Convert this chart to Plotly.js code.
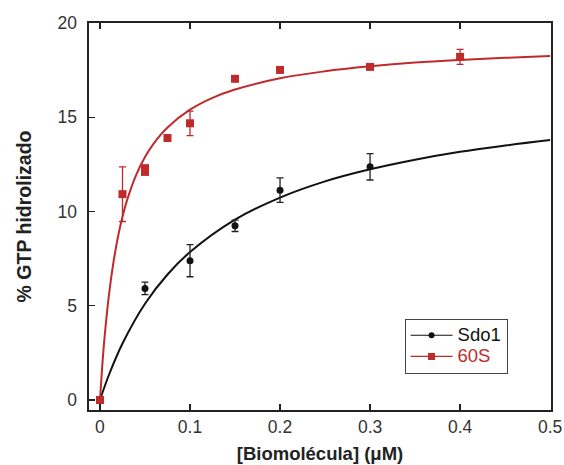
<!DOCTYPE html>
<html>
<head>
<meta charset="utf-8">
<script src="https://cdn.plot.ly/plotly-3.0.1.min.js"></script>
<style>html,body{margin:0;padding:0;background:#fff;}#chart{width:564px;height:465px;}</style>
</head>
<body>
<div id="chart"></div>
<script>
const sdo1X = [0, 0.05, 0.1, 0.15, 0.2, 0.3];
const sdo1Y = [0, 5.92, 7.39, 9.24, 11.13, 12.37];
const sdo1Err = [0, 0.33, 0.85, 0.3, 0.65, 0.7];

const s60X = [0, 0.025, 0.05, 0.05, 0.075, 0.1, 0.15, 0.2, 0.3, 0.4];
const s60Y = [0, 10.92, 12.3, 12.1, 13.9, 14.68, 17.04, 17.51, 17.67, 18.2];
const s60Err = [0, 1.45, 0, 0, 0, 0.65, 0, 0, 0, 0.4];

// Fitted curves
const sdo1FitX = [0, 0.01, 0.025, 0.05, 0.075, 0.1, 0.15, 0.2, 0.25, 0.3, 0.35, 0.4, 0.45, 0.5];
const sdo1FitY = [0, 1.34, 3.0, 5.11, 6.66, 7.85, 9.57, 10.74, 11.6, 12.24, 12.75, 13.17, 13.5, 13.79];

const s60FitX = [0, 0.0025, 0.005, 0.01, 0.015, 0.02, 0.025, 0.03, 0.04, 0.05, 0.06, 0.075, 0.1, 0.125, 0.15, 0.2, 0.25, 0.3, 0.35, 0.4, 0.45, 0.5];
const s60FitY = [0, 1.79, 3.28, 5.59, 7.32, 8.66, 9.72, 10.59, 11.92, 12.89, 13.63, 14.46, 15.4, 16.03, 16.47, 17.07, 17.44, 17.7, 17.9, 18.04, 18.15, 18.25];

const xTicks = [0, 0.1, 0.2, 0.3, 0.4, 0.5];
const xTickText = ['0', '0.1', '0.2', '0.3', '0.4', '0.5'];
const yTicks = [0, 5, 10, 15, 20];

const RED = '#bf2b2b';
const BLACK = '#111111';
const FONT = 'Liberation Sans, Arial, sans-serif';

const traces = [
  {x: sdo1FitX, y: sdo1FitY, mode: 'lines', line: {color: BLACK, width: 2, shape: 'spline'}, showlegend: false, hoverinfo: 'skip'},
  {x: s60FitX, y: s60FitY, mode: 'lines', line: {color: RED, width: 2, shape: 'spline'}, showlegend: false, hoverinfo: 'skip'},
  {x: sdo1X, y: sdo1Y, mode: 'markers', marker: {color: BLACK, size: 7, symbol: 'circle'},
   error_y: {type: 'data', array: sdo1Err, visible: true, color: '#222', thickness: 1.3, width: 3.5}, showlegend: false},
  {x: s60X, y: s60Y, mode: 'markers', marker: {color: RED, size: 8, symbol: 'square'},
   error_y: {type: 'data', array: s60Err, visible: true, color: RED, thickness: 1.3, width: 3.5}, showlegend: false},
  {x: [null], y: [null], mode: 'lines+markers', name: '<span style="font-size:18.5px">Sdo1</span>', line: {color: BLACK, width: 1.2}, marker: {color: BLACK, size: 6, symbol: 'circle'}},
  {x: [null], y: [null], mode: 'lines+markers', name: '<span style="font-size:18.5px;color:' + RED + '">60S</span>', line: {color: RED, width: 1.2}, marker: {color: RED, size: 7, symbol: 'square'}}
];

const axisCommon = {
  showgrid: false, zeroline: false, showline: true, linecolor: '#222', linewidth: 1.6,
  ticks: 'inside', ticklen: 6, tickwidth: 1.4, tickcolor: '#222',
  tickfont: {family: FONT, size: 17.5, color: '#333'}
};

const layout = {
  width: 564, height: 465,
  margin: {l: 89, r: 13, t: 23, b: 55},
  paper_bgcolor: '#fff', plot_bgcolor: '#fff',
  showlegend: true,
  legend: {x: 0.683, y: 0.236, xanchor: 'left', yanchor: 'top', bgcolor: '#fff', bordercolor: '#444', borderwidth: 1,
           font: {family: FONT, size: 14, color: BLACK}, tracegroupgap: 0, itemwidth: 42},
  xaxis: Object.assign({}, axisCommon, {
    range: [-0.0122, 0.501], tickvals: xTicks, ticktext: xTickText, mirror: 'ticks',
    title: {text: '[Biomolécula] (μM)', font: {family: FONT, size: 18.5, color: '#222', weight: 'bold'}, standoff: 11}
  }),
  yaxis: Object.assign({}, axisCommon, {
    range: [-0.53, 20], tickvals: yTicks, mirror: true, ticklabelstandoff: 7,
    title: {text: '% GTP hidrolizado', font: {family: FONT, size: 19.5, color: '#222', weight: 'bold'}, standoff: 20}
  })
};

Plotly.newPlot('chart', traces, layout, {displayModeBar: false, staticPlot: true});
</script>
</body>
</html>
